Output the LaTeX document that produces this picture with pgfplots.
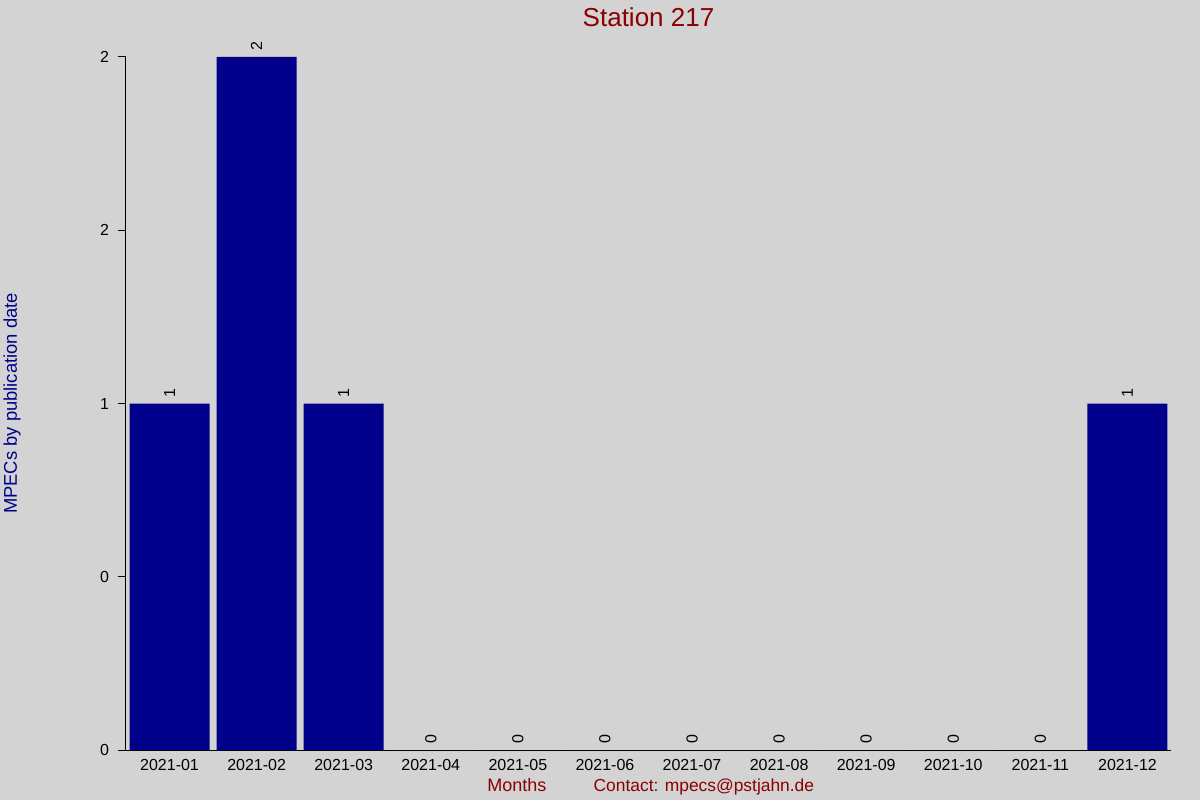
\documentclass[border=0pt]{standalone}
\usepackage{fontspec}
\setmainfont{Liberation Sans}
\usepackage{pgfplots}
\pgfplotsset{compat=1.18}
\definecolor{bg}{HTML}{D3D3D3}
\definecolor{barblue}{HTML}{00008B}
\definecolor{titlered}{HTML}{8B0000}

\pgfplotstableread{
x count
0 1
1 2
2 1
3 0
4 0
5 0
6 0
7 0
8 0
9 0
10 0
11 1
}\mpecs

\begin{document}
\begin{tikzpicture}
\fill[bg] (-63pt,-25pt) rectangle (537pt,375pt);
\useasboundingbox (-63pt,-25pt) rectangle (537pt,375pt);
\begin{axis}[
    at={(0,0)}, anchor=south west,
    scale only axis,
    width=522.5pt, height=346.5pt,
    ybar, bar width=40pt, bar shift=0pt,
    xmin=-0.5, xmax=11.5,
    ymin=0, ymax=2,
    axis x line*=bottom,
    axis y line*=left,
    axis line style={black, line width=0.5pt, -},
    xtick=data,
    xticklabels={2021-01,2021-02,2021-03,2021-04,2021-05,2021-06,2021-07,2021-08,2021-09,2021-10,2021-11,2021-12},
    xtick style={draw=none},
    ytick={0,0.5,1,1.5,2},
    yticklabels={0,0,1,2,2},
    tick align=outside,
    major tick length=4pt,
    tick style={black, line width=0.5pt},
    tick label style={font=\fontsize{8}{9}\selectfont, black},
    /pgf/number format/assume math mode=true,
    yticklabel style={xshift=-1pt},
    xticklabel style={yshift=3pt},
    nodes near coords,
    every node near coord/.append style={rotate=90, anchor=west, font=\fontsize{8}{9}\selectfont, black, inner sep=3pt},
    title={Station 217},
    title style={at={(axis description cs:0.5,1)}, anchor=center, yshift=14pt, font=\fontsize{13}{15}\selectfont, text=titlered},
    ylabel={MPECs by publication date},
    ylabel style={at={(axis description cs:-0.109,0.5)}, anchor=center, font=\fontsize{9.2}{11}\selectfont, text=barblue},
    xlabel={Months},
    xlabel style={at={(axis description cs:0.374,-0.0606)}, anchor=base, font=\fontsize{9}{11}\selectfont, text=titlered},
    clip=false,
]
\addplot[fill=barblue, draw=none] table[x=x, y=count] {\mpecs};
\node[anchor=base, font=\fontsize{8.7}{11}\selectfont, text=titlered] at (axis description cs:0.553,-0.0606) {Contact: mpecs@pstjahn.de};
\end{axis}
\end{tikzpicture}
\end{document}
